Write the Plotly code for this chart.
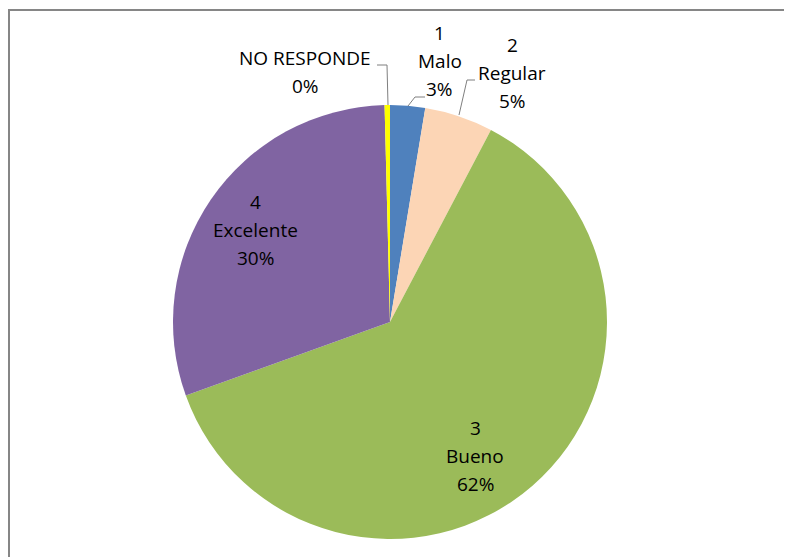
import plotly.graph_objects as go

# Data
categories = ["1<br>Malo", "2<br>Regular", "3<br>Bueno", "4<br>Excelente", "NO RESPONDE"]
label_lines = [["1", "Malo"], ["2", "Regular"], ["3", "Bueno"], ["4", "Excelente"], ["NO RESPONDE"]]
values = [2.6, 5.1, 61.8, 30.1, 0.4]
colors = ["#4F81BD", "#FCD5B5", "#9BBB59", "#8064A2", "#FFFF00"]

W, H = 792, 557
OFF = 8  # page body margin
total = sum(values)
pcts = [f"{v / total * 100:.0f}%" for v in values]

def px(x, y):
    return (x - OFF) / W, 1 - (y - OFF) / H

cx, cy, r = 390, 322, 217
dx0, dy1 = px(cx - r, cy - r)
dx1, dy0 = px(cx + r, cy + r)

fig = go.Figure(go.Pie(
    labels=categories,
    values=values,
    sort=False,
    direction="clockwise",
    rotation=0,
    textinfo="none",
    hoverinfo="label+percent",
    marker=dict(colors=colors, line=dict(width=0)),
    domain=dict(x=[dx0, dx1], y=[dy0, dy1]),
    showlegend=False,
))

# label layout (pixel anchor of first line, line spacing)
label_pos = [(440, 33), (512, 45), (475, 428), (255, 202), (305, 58)]
spacing = 28
annotations = []
for lines, pct, (lx, ly) in zip(label_lines, pcts, label_pos):
    for i, t in enumerate(lines + [pct]):
        x, y = px(lx, ly + i * spacing)
        annotations.append(dict(x=x, y=y, xref="paper", yref="paper", text=t, showarrow=False,
                                xanchor="center", yanchor="middle",
                                font=dict(family="Open Sans", size=19, color="#000000")))

def path(points):
    s = ""
    for i, (x, y) in enumerate(points):
        xx, yy = px(x, y)
        s += ("M" if i == 0 else "L") + f"{xx},{yy} "
    return s

leaders = [
    [(425, 97), (415, 97), (408, 106)],
    [(475, 80), (467, 80), (459, 115)],
    [(377, 65), (387, 65), (388, 105)],
]
shapes = []
for pts in leaders:
    shapes.append(dict(type="path", xref="paper", yref="paper", path=path(pts),
                       line=dict(color="#7f7f7f", width=1)))

# chart border
bx0, by1 = px(9, 10)
shapes.append(dict(type="rect", xref="paper", yref="paper", x0=bx0, x1=1.2, y0=-0.2, y1=by1,
                   line=dict(color="#868686", width=2), fillcolor="rgba(0,0,0,0)"))

fig.update_layout(
    width=W, height=H,
    margin=dict(l=0, r=0, t=0, b=0),
    paper_bgcolor="white",
    plot_bgcolor="white",
    annotations=annotations,
    shapes=shapes,
)

fig.write_html("out.html")
